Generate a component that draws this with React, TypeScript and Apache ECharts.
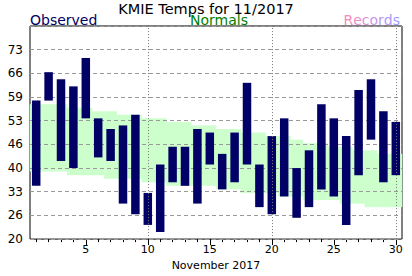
import React, { useEffect, useRef } from "react";
import * as echarts from "echarts";

const days = ["1","2","3","4","5","6","7","8","9","10","11","12","13","14","15","16","17","18","19","20","21","22","23","24","25","26","27","28","29","30"];
const obsHigh = [59,67,65,63,71,54,51,52,55,33,41,46,46,51,50,44,50,64,41,49,54,40,45,58,54,49,62,65,56,53];
const obsLow = [35,59,42,40,54,43,42,30,27,24,22,36,35,30,41,34,36,41,29,27,32,26,29,34,32,24,38,48,36,38];
const normHigh = [58,58,58,57,57,56,56,55,55,54,54,53,53,52,52,51,51,50,50,49,49,48,47,47,46,46,45,45,44,44];
const normLow = [39,39,39,38,38,38,37,37,37,36,36,35,35,35,35,34,34,33,33,33,32,32,31,31,31,30,30,29,29,29];
const yTickLabels = ["20","26","33","40","46","53","59","66","73",""];
const gridDays = ["10","20","30"];
const title = "KMIE Temps for 11/2017";
const xName = "November 2017";

const FONT = "DejaVu Sans";

export default function App() {
  const ref = useRef<HTMLDivElement>(null);
  useEffect(() => {
    document.body.style.margin = "0";
    if (!ref.current) return;
    const chart = echarts.init(ref.current, undefined, { renderer: "svg" });
    const step = 60 / 9;
    const rangeItem = (fill: string, full: boolean) => (params: any, api: any) => {
      const x = api.value(0);
      const lo = api.value(1);
      const hi = api.value(2);
      const p1 = api.coord([x, hi]);
      const p2 = api.coord([x, lo]);
      const w = full ? api.size([1, 0])[0] + 0.4 : 8.5;
      return {
        type: "rect",
        shape: { x: p1[0] - w / 2, y: p1[1], width: w, height: p2[1] - p1[1] },
        style: { fill },
      };
    };
    const recordsColors = ["#f58cba", "#e78fcb", "#d992d8", "#c996e6", "#b999f0", "#ab9cf8", "#a09efc"];
    const rich: any = {};
    recordsColors.forEach((c, i) => {
      rich["c" + i] = { fill: c, fontSize: 14, fontFamily: FONT, lineHeight: 12 };
    });
    const recText = "Records".split("").map((ch, i) => `{c${i}|${ch}}`).join("");
    chart.setOption({
      animation: false,
      grid: { left: 30, right: 10, top: 26, bottom: 30, show: true, borderColor: "#000", borderWidth: 1, backgroundColor: "transparent" },
      xAxis: [
        {
          type: "category",
          data: days,
          axisLine: { show: false },
          axisTick: { show: true, alignWithLabel: true, length: 3, interval: 0, lineStyle: { color: "#000" } },
          axisLabel: {
            interval: (i: number, v: string) => Number(v) % 5 === 0,
            fontFamily: FONT,
            fontSize: 11,
            color: "#000",
            margin: 5,
          },
          splitLine: { show: false },
          name: xName,
          nameLocation: "middle",
          nameGap: 17,
          nameTextStyle: { fontFamily: FONT, fontSize: 11, color: "#000" },
        },
        {
          type: "category",
          data: days,
          position: "bottom",
          axisLine: { show: false },
          axisTick: {
            show: true,
            alignWithLabel: true,
            length: 6,
            interval: (i: number, v: string) => Number(v) % 5 === 0,
            lineStyle: { color: "#000" },
          },
          axisLabel: { show: false },
          splitLine: { show: false },
        },
      ],
      yAxis: {
        type: "value",
        min: 20,
        max: 80,
        interval: step,
        z: 2,
        axisLine: { show: false },
        axisTick: { show: false },
        axisLabel: {
          fontFamily: FONT,
          fontSize: 12,
          color: "#000",
          margin: 7,
          formatter: (v: number) => yTickLabels[Math.round((v - 20) / step)] ?? "",
        },
        splitLine: { show: true, lineStyle: { color: "#999", type: [4, 3], width: 1 } },
      },
      series: [
        {
          type: "custom",
          xAxisIndex: 0,
          z: 1,
          renderItem: rangeItem("#ccffcc", true),
          encode: { x: 0, y: [1, 2] },
          data: days.map((d, i) => [i, normLow[i], normHigh[i]]),
          markLine: {
            silent: true,
            symbol: ["none", "none"],
            label: { show: false },
            lineStyle: { color: "#777", type: [1, 2], width: 1 },
            data: gridDays.map((d) => ({ xAxis: d })),
          },
        },
        {
          type: "custom",
          xAxisIndex: 1,
          z: 3,
          renderItem: rangeItem("#000066", false),
          encode: { x: 0, y: [1, 2] },
          data: days.map((d, i) => [i, obsLow[i], obsHigh[i]]),
        },
      ],
      graphic: [
        { type: "text", x: 206, y: 8.5, style: { text: title, fontFamily: FONT, fontSize: 14.5, lineHeight: 12, fill: "#000", align: "center", verticalAlign: "middle" } },
        { type: "text", x: 30, y: 20, style: { text: "Observed", fontFamily: FONT, fontSize: 14, lineHeight: 12, fill: "#000066", align: "left", verticalAlign: "middle" } },
        { type: "text", x: 219, y: 20, style: { text: "Normals", fontFamily: FONT, fontSize: 14, lineHeight: 12, fill: "#008000", align: "center", verticalAlign: "middle" } },
        { type: "text", x: 400, y: 20, style: { text: recText, rich, fontFamily: FONT, fontSize: 14, lineHeight: 12, align: "right", verticalAlign: "middle" } },
      ],
    });
    return () => chart.dispose();
  }, []);
  return <div ref={ref} style={{ width: 412, height: 276 }} />;
}
